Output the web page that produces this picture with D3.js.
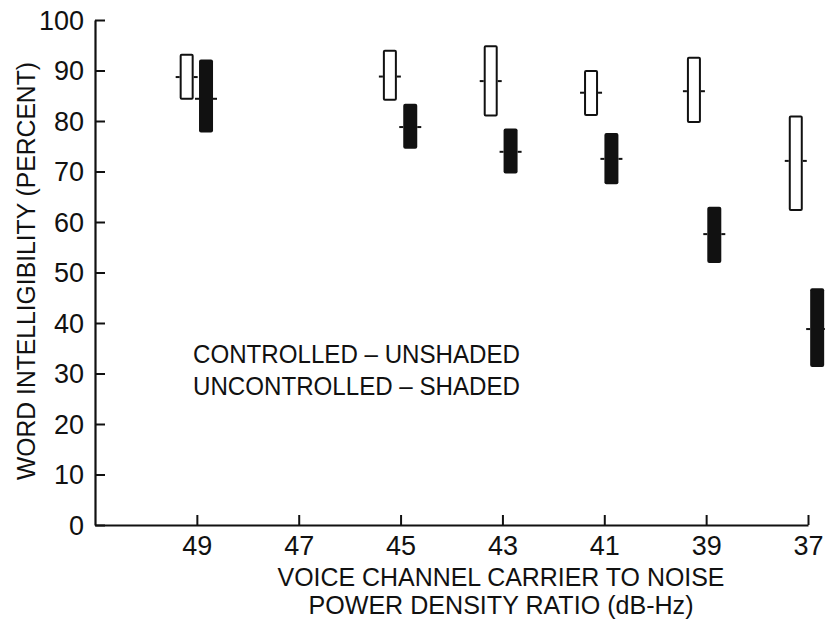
<!DOCTYPE html>
<html>
<head>
<meta charset="utf-8">
<script src="https://cdn.jsdelivr.net/npm/d3@7"></script>
<style>
  html, body { margin: 0; padding: 0; background: #fff; }
  svg { display: block; }
  text { font-family: "Liberation Sans Narrow", "Liberation Sans", Arial, sans-serif; fill: #111; }
</style>
</head>
<body>
<svg id="chart" width="825" height="620"></svg>
<script>
// ---- data ----
const xTicks = [49, 47, 45, 43, 41, 39, 37];
const yTicks = [0, 10, 20, 30, 40, 50, 60, 70, 80, 90, 100];
const groups = [49, 45, 43, 41, 39, 37];
// controlled (unshaded) boxes: plotted position (dB-Hz), low, mean, high (%)
const ctrlX    = [49.20, 45.21, 43.23, 41.26, 39.24, 37.24];
const ctrlLow  = [84.2, 84.0, 80.9, 81.0, 79.6, 62.2];
const ctrlMean = [88.7, 88.8, 87.9, 85.6, 85.9, 72.1];
const ctrlHigh = [93.3, 94.1, 95.0, 90.1, 92.7, 81.1];
// uncontrolled (shaded) boxes
const unctrlX    = [48.82, 44.81, 42.84, 40.86, 38.84, 36.82];
const unctrlLow  = [77.7, 74.5, 69.6, 67.5, 51.9, 31.3];
const unctrlMean = [84.4, 78.8, 73.9, 72.5, 57.6, 38.8];
const unctrlHigh = [92.2, 83.4, 78.5, 77.6, 63.0, 46.9];
const legendLines = ["CONTROLLED – UNSHADED", "UNCONTROLLED – SHADED"];
const xTitle = ["VOICE CHANNEL CARRIER TO NOISE", "POWER DENSITY RATIO (dB-Hz)"];
const yTitle = "WORD INTELLIGIBILITY (PERCENT)";

// ---- layout ----
const svg = d3.select("#chart");
const x = d3.scaleLinear().domain([51, 37]).range([95, 808]);
const y = d3.scaleLinear().domain([0, 100]).range([525, 20]);
const ink = "#111";

// axes
const gx = svg.append("g").attr("transform", `translate(0,${y(0)})`)
  .call(d3.axisBottom(x).tickValues(xTicks).tickSizeInner(-10).tickSizeOuter(0).tickPadding(11).tickFormat(d3.format("d")));
gx.select(".domain").attr("stroke", ink).attr("stroke-width", 2.2);
gx.selectAll(".tick line").attr("stroke", ink).attr("stroke-width", 2);
gx.selectAll(".tick text").attr("font-size", 27).attr("font-family", "Liberation Sans, Arial, sans-serif").attr("fill", ink);

const gy = svg.append("g").attr("transform", `translate(${x(51)},0)`)
  .call(d3.axisLeft(y).tickValues(yTicks).tickSizeInner(-10).tickSizeOuter(0).tickPadding(11).tickFormat(d3.format("d")));
gy.select(".domain").attr("stroke", ink).attr("stroke-width", 2.2);
gy.selectAll(".tick line").attr("stroke", ink).attr("stroke-width", 2);
gy.selectAll(".tick text").attr("font-size", 27).attr("font-family", "Liberation Sans, Arial, sans-serif").attr("fill", ink).attr("dy", "0.35em");

// boxes
const boxW = 14, stub = 4;
const ctrl = groups.map((g, i) => ({ g, px: ctrlX[i], lo: ctrlLow[i], m: ctrlMean[i], hi: ctrlHigh[i] }));
const unc = groups.map((g, i) => ({ g, px: unctrlX[i], lo: unctrlLow[i], m: unctrlMean[i], hi: unctrlHigh[i] }));

svg.append("g").selectAll("rect").data(ctrl).join("rect")
  .attr("x", d => x(d.px) - boxW / 2 + 1)
  .attr("y", d => y(d.hi) + 1)
  .attr("width", boxW - 2)
  .attr("height", d => y(d.lo) - y(d.hi) - 2)
  .attr("fill", "#fff").attr("stroke", ink).attr("stroke-width", 2).attr("rx", 1);

svg.append("g").selectAll("rect").data(unc).join("rect")
  .attr("x", d => x(d.px) - boxW / 2)
  .attr("y", d => y(d.hi))
  .attr("width", boxW)
  .attr("height", d => y(d.lo) - y(d.hi))
  .attr("fill", ink).attr("rx", 2);

// mean stubs
const stubs = [];
ctrl.concat(unc).forEach(d => {
  stubs.push({ x1: x(d.px) - boxW / 2 - stub, x2: x(d.px) - boxW / 2, yv: d.m });
  stubs.push({ x1: x(d.px) + boxW / 2, x2: x(d.px) + boxW / 2 + stub, yv: d.m });
});
svg.append("g").selectAll("line").data(stubs).join("line")
  .attr("x1", d => d.x1).attr("x2", d => d.x2)
  .attr("y1", d => y(d.yv)).attr("y2", d => y(d.yv))
  .attr("stroke", ink).attr("stroke-width", 2);

// legend text
svg.append("g").selectAll("text").data(legendLines).join("text")
  .attr("x", 193).attr("y", (d, i) => 363 + i * 32)
  .attr("font-size", 26)
  .attr("textLength", 327).attr("lengthAdjust", "spacingAndGlyphs")
  .text(d => d);

// x title
const xtLens = [447, 385];
svg.append("g").selectAll("text").data(xTitle).join("text")
  .attr("x", 501).attr("y", (d, i) => 586 + i * 28)
  .attr("text-anchor", "middle").attr("font-size", 25)
  .attr("textLength", (d, i) => xtLens[i]).attr("lengthAdjust", "spacingAndGlyphs")
  .text(d => d);

// y title
svg.append("text")
  .attr("transform", "translate(35,271) rotate(-90)")
  .attr("text-anchor", "middle").attr("font-size", 26)
  .attr("textLength", 418).attr("lengthAdjust", "spacingAndGlyphs")
  .text(yTitle);
</script>
</body>
</html>
